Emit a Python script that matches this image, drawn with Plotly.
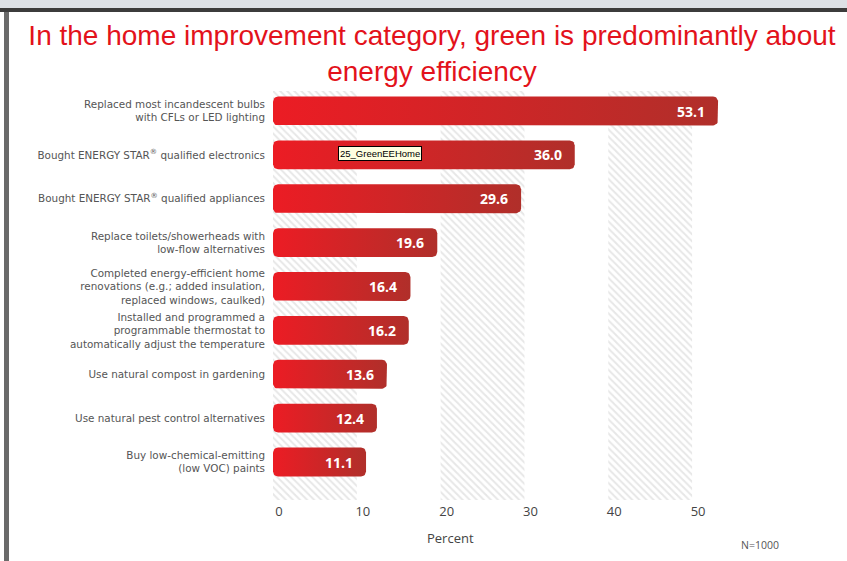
import numpy as np
import plotly.graph_objects as go

labels = [
    'Replaced most incandescent bulbs<br>with CFLs or LED lighting',
    'Bought ENERGY STAR<sup>®</sup> qualified electronics',
    'Bought ENERGY STAR<sup>®</sup> qualified appliances',
    'Replace toilets/showerheads with<br>low-flow alternatives',
    'Completed energy-efficient home<br>renovations (e.g.; added insulation,<br>replaced windows, caulked)',
    'Installed and programmed a<br>programmable thermostat to<br>automatically adjust the temperature',
    'Use natural compost in gardening',
    'Use natural pest control alternatives',
    'Buy low-chemical-emitting<br>(low VOC) paints',
]
values = [53.1, 36.0, 29.6, 19.6, 16.4, 16.2, 13.6, 12.4, 11.1]
tick_vals = [0, 10, 20, 30, 40, 50]
band_starts = [0, 20, 40]
band_width = 10

W, H = 847, 561
ML, MR, MT, MB = 273, 113, 91, 61
plot_w = W - ML - MR
plot_h = H - MT - MB
x_range = [0, 55]
y_top, y_bot = -0.456, 8.866
half = 0.33

font = 'Open Sans, Lato, sans-serif'
label_font = 'DejaVu Sans, sans-serif'
grad = [[0, '#ec1c24'], [1, '#b02f2a']]


def rounded_bar(v, i, rpx=5, n=8):
    # rounded rectangle in data units, corner radius given in pixels
    rx = rpx / (plot_w / (x_range[1] - x_range[0]))
    ry = rpx / (plot_h / (y_bot - y_top))
    y_lo, y_hi = i - half, i + half
    corners = [
        (0 + rx, y_lo + ry, 180, 270),
        (v - rx, y_lo + ry, 270, 360),
        (v - rx, y_hi - ry, 0, 90),
        (0 + rx, y_hi - ry, 90, 180),
    ]
    xs, ys = [], []
    for cx, cy, a0, a1 in corners:
        a = np.radians(np.linspace(a0, a1, n))
        xs += list(cx + rx * np.cos(a))
        ys += list(cy + ry * np.sin(a))
    return xs + [xs[0]], ys + [ys[0]]


def px_x(p):
    return (p - ML) / plot_w


def px_y(p):
    return (H - MB - p) / plot_h


fig = go.Figure()

# hatched background bands
fig.add_trace(
    go.Bar(
        x=[s + band_width / 2 for s in band_starts],
        y=[y_bot - y_top] * len(band_starts),
        base=[y_top] * len(band_starts),
        width=band_width,
        marker=dict(
            color='white',
            line=dict(width=0),
            pattern=dict(shape='\\', fgcolor='#cfcfcf', bgcolor='white', size=5, solidity=0.4),
        ),
        hoverinfo='skip',
        showlegend=False,
    )
)

for i, v in enumerate(values):
    xs, ys = rounded_bar(v, i)
    fig.add_trace(
        go.Scatter(
            x=xs,
            y=ys,
            mode='lines',
            fill='toself',
            line=dict(width=0, color='#d42428'),
            fillcolor='#d42428',
            fillgradient=dict(type='horizontal', colorscale=grad),
            hoverinfo='skip',
            showlegend=False,
        )
    )
    fig.add_annotation(
        x=v, y=i, xref='x', yref='y',
        text='<b>%.1f</b>' % v,
        showarrow=False,
        xanchor='right', xshift=-11,
        font=dict(family=font, size=14, color='white'),
    )

fig.add_annotation(
    x=7.7, y=0.97, xref='x', yref='y',
    text='25_GreenEEHome',
    showarrow=False,
    xanchor='left', yanchor='middle',
    bgcolor='#ffffe1', bordercolor='#000000', borderwidth=1, borderpad=1,
    font=dict(family='Liberation Sans, Arial', size=9.5, color='black'),
)
fig.add_annotation(
    x=21.2, y=px_y(538), xref='x', yref='paper',
    text='Percent', showarrow=False, yanchor='middle',
    font=dict(family=font, size=13, color='#444444'),
)
fig.add_annotation(
    x=px_x(760), y=px_y(545), xref='paper', yref='paper',
    text='N=1000', showarrow=False, xanchor='center', yanchor='middle',
    font=dict(family=font, size=10.5, color='#555555'),
)

# window frame around the screenshot
frame = [
    (0, 0, W, 8, '#dde1e6'),
    (0, 8, W, 12, '#3c3c3c'),
    (4, 12, 9, H, '#6a6a6a'),
]
for x0, y0, x1, y1, c in frame:
    fig.add_shape(
        type='rect', xref='paper', yref='paper',
        x0=px_x(x0), x1=px_x(x1), y0=px_y(y1), y1=px_y(y0),
        fillcolor=c, line=dict(width=0), layer='above',
    )

fig.update_layout(
    width=W,
    height=H,
    margin=dict(l=ML, r=MR, t=MT, b=MB),
    paper_bgcolor='white',
    plot_bgcolor='white',
    title=dict(
        text='In the home improvement category, green is predominantly about<br>energy efficiency',
        x=432 / W, xref='container', xanchor='center',
        y=1 - 45 / H, yref='container', yanchor='top',
        font=dict(family='Liberation Sans, Arial', size=28, color='#e3121b'),
    ),
    xaxis=dict(
        range=x_range,
        tickvals=tick_vals,
        showgrid=False,
        zeroline=False,
        showline=False,
        ticks='',
        ticklabelshift=6,
        ticklabelstandoff=2,
        tickfont=dict(family=font, size=13, color='#444444'),
    ),
    yaxis=dict(
        range=[y_bot, y_top],
        tickvals=list(range(len(labels))),
        ticktext=labels,
        showgrid=False,
        zeroline=False,
        showline=False,
        ticks='',
        ticklabelstandoff=7,
        tickfont=dict(family=label_font, size=10.4, color='#555555'),
    ),
    showlegend=False,
)

fig.write_html(
    "out.html",
    config={'displayModeBar': False},
    post_script="document.body.style.margin='0';",
)
